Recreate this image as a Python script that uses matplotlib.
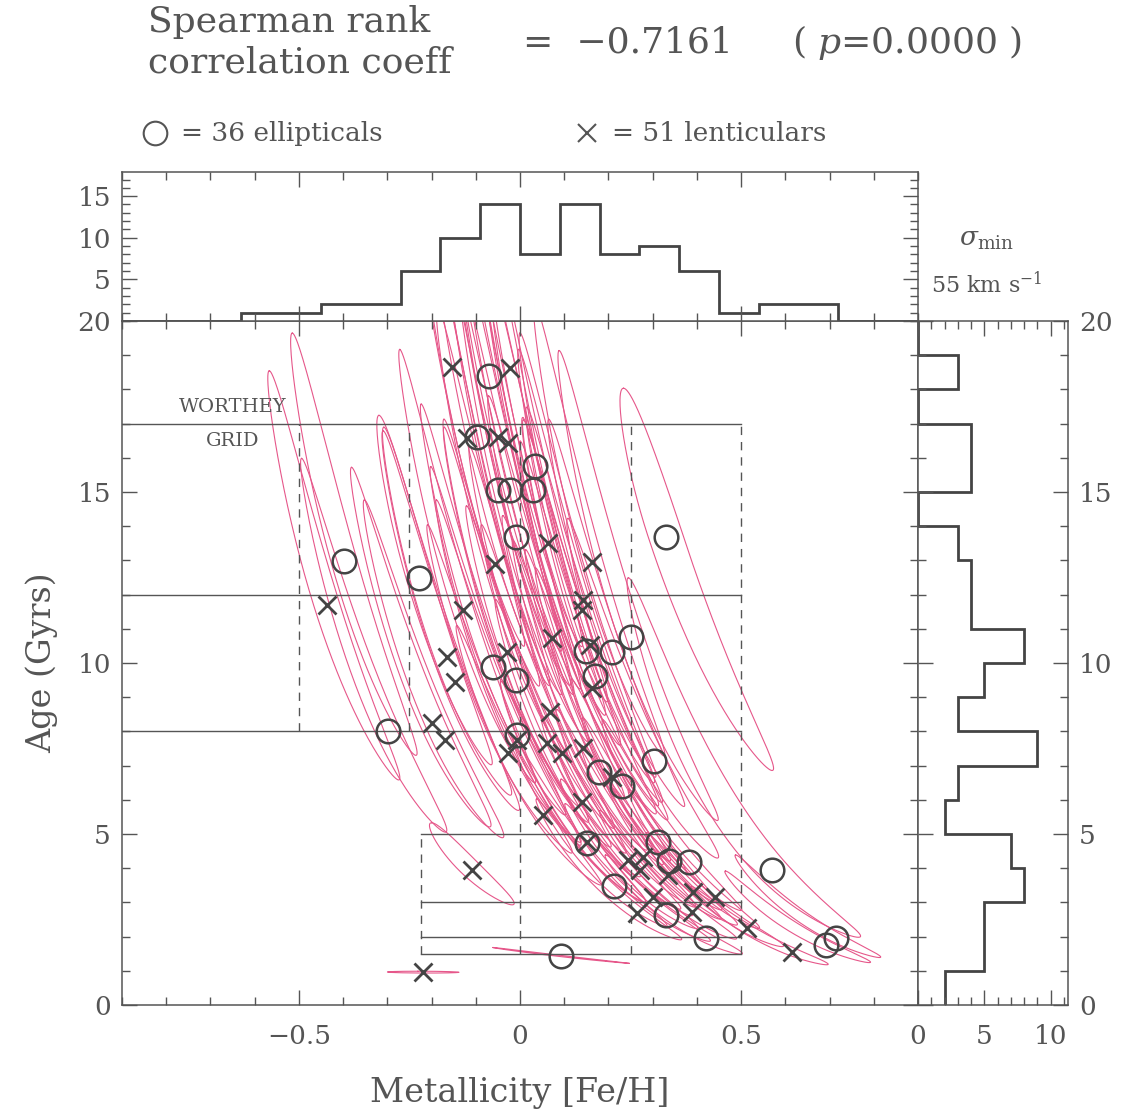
import numpy as np
import matplotlib
matplotlib.use("Agg")
import matplotlib.pyplot as plt
from matplotlib.lines import Line2D
from matplotlib.ticker import MultipleLocator, FixedLocator

plt.rcParams['font.family'] = ['DejaVu Serif']
plt.rcParams['mathtext.fontset'] = 'dejavuserif'

# --- data ---------------------------------------------------------------
# ellipticals (circles): [Fe/H] and age (Gyr)
circ_feh = [-0.070, -0.097, 0.034, -0.050, -0.023, 0.029, -0.009, 0.330, -0.398, -0.228,
            0.251, 0.149, 0.208, -0.061, -0.009, 0.170, -0.299, -0.007, 0.179, 0.303,
            0.231, 0.152, 0.312, 0.337, 0.382, 0.213, 0.330, 0.421, 0.570, 0.692,
            0.715, 0.093]
circ_age = [18.39, 16.61, 15.76, 15.06, 15.06, 15.06, 13.68, 13.68, 12.98, 12.49,
            10.76, 10.35, 10.32, 9.88, 9.50, 9.62, 8.01, 7.89, 6.81, 7.13,
            6.40, 4.74, 4.77, 4.21, 4.18, 3.48, 2.63, 1.96, 3.95, 1.75,
            1.96, 1.43]
# error contours: extent in log(age) above / below the point, [Fe/H] per dex of log age, width
circ_up = [0.15, 0.18, 0.18, 0.18, 0.18, 0.18, 0.20, 0.12, 0.18, 0.14,
           0.25, 0.22, 0.22, 0.25, 0.25, 0.25, 0.30, 0.30, 0.30, 0.30,
           0.30, 0.30, 0.30, 0.30, 0.30, 0.35, 0.35, 0.35, 0.50, 0.35,
           0.35, 0.07]
circ_down = [0.25, 0.25, 0.25, 0.22, 0.22, 0.25, 0.25, 0.30, 0.25, 0.25,
             0.30, 0.25, 0.25, 0.25, 0.25, 0.25, 0.20, 0.22, 0.22, 0.22,
             0.22, 0.20, 0.20, 0.18, 0.18, 0.18, 0.15, 0.12, 0.30, 0.15,
             0.15, 0.07]
circ_slope = [0.65, 0.65, 0.65, 0.65, 0.65, 0.65, 0.65, 0.80, 0.65, 0.65,
              0.65, 0.65, 0.65, 0.65, 0.65, 0.65, 0.65, 0.65, 0.65, 0.65,
              0.65, 0.65, 0.65, 0.65, 0.65, 0.65, 0.65, 0.65, 0.65, 0.65,
              0.65, 2.20]
circ_width = [0.025, 0.025, 0.025, 0.025, 0.025, 0.025, 0.025, 0.04, 0.03, 0.03,
              0.03, 0.025, 0.025, 0.025, 0.025, 0.025, 0.03, 0.025, 0.025, 0.03,
              0.025, 0.025, 0.025, 0.025, 0.025, 0.025, 0.025, 0.025, 0.045, 0.025,
              0.025, 0.012]

# lenticulars (crosses)
cross_feh = [-0.154, -0.023, -0.120, -0.050, -0.027, 0.063, -0.057, 0.163, -0.437, -0.129,
             0.143, 0.140, 0.072, 0.158, -0.165, -0.029, -0.147, 0.163, -0.199, -0.170,
             0.068, 0.061, 0.095, -0.027, -0.007, 0.143, 0.208, 0.140, 0.052, 0.152,
             -0.109, -0.219, 0.244, 0.278, 0.271, 0.335, 0.301, 0.265, 0.391, 0.441,
             0.389, 0.514, 0.615]
cross_age = [18.65, 18.63, 16.58, 16.61, 16.43, 13.51, 12.89, 12.95, 11.70, 11.55,
             11.84, 11.55, 10.73, 10.53, 10.18, 10.32, 9.44, 9.27, 8.25, 7.75,
             8.57, 7.66, 7.37, 7.37, 7.75, 7.51, 6.67, 5.94, 5.56, 4.77,
             3.95, 0.96, 4.24, 4.33, 3.95, 3.80, 3.16, 2.69, 3.30, 3.16,
             2.72, 2.25, 1.55]
cross_up = [0.15, 0.15, 0.18, 0.18, 0.18, 0.20, 0.20, 0.20, 0.20, 0.22,
            0.22, 0.22, 0.22, 0.22, 0.22, 0.22, 0.25, 0.25, 0.28, 0.28,
            0.28, 0.28, 0.28, 0.28, 0.28, 0.28, 0.30, 0.30, 0.30, 0.30,
            0.13, 0.012, 0.30, 0.30, 0.30, 0.30, 0.32, 0.35, 0.30, 0.30,
            0.32, 0.35, 0.35]
cross_down = [0.25, 0.25, 0.25, 0.25, 0.25, 0.25, 0.25, 0.25, 0.25, 0.25,
              0.25, 0.25, 0.25, 0.25, 0.22, 0.25, 0.22, 0.22, 0.20, 0.20,
              0.22, 0.22, 0.22, 0.22, 0.22, 0.22, 0.20, 0.20, 0.20, 0.20,
              0.13, 0.012, 0.18, 0.18, 0.18, 0.18, 0.15, 0.15, 0.15, 0.15,
              0.15, 0.12, 0.12]
cross_slope = [0.65, 0.65, 0.65, 0.65, 0.65, 0.65, 0.65, 0.65, 0.65, 0.65,
               0.65, 0.65, 0.65, 0.65, 0.65, 0.65, 0.65, 0.65, 0.65, 0.65,
               0.65, 0.65, 0.65, 0.65, 0.65, 0.65, 0.65, 0.65, 0.65, 0.65,
               0.70, 1.00, 0.65, 0.65, 0.65, 0.65, 0.65, 0.65, 0.65, 0.65,
               0.65, 0.65, 0.65]
cross_width = [0.025, 0.025, 0.025, 0.025, 0.025, 0.025, 0.025, 0.025, 0.03, 0.025,
               0.025, 0.025, 0.025, 0.025, 0.03, 0.025, 0.03, 0.025, 0.03, 0.03,
               0.025, 0.025, 0.025, 0.025, 0.025, 0.025, 0.025, 0.025, 0.025, 0.025,
               0.03, 0.08, 0.025, 0.025, 0.025, 0.025, 0.025, 0.025, 0.025, 0.025,
               0.025, 0.025, 0.025]

# metallicity histogram (top)
feh_edges = [-0.9, -0.63, -0.54, -0.45, -0.36, -0.27, -0.18, -0.09, 0.0, 0.09,
             0.18, 0.27, 0.36, 0.45, 0.54, 0.63, 0.72, 0.9]
feh_counts = [0, 1, 1, 2, 2, 6, 10, 14, 8, 14, 8, 9, 6, 1, 2, 2, 0]

# age histogram (right)
age_edges = list(range(0, 21))
age_counts = [2, 5, 5, 8, 7, 2, 3, 9, 3, 5, 8, 4, 4, 3, 0, 4, 4, 0, 3, 0]

# Worthey model grid
grid_old_ages = [8, 12, 17]
grid_old_feh = [-0.5, -0.25, 0.0, 0.25, 0.5]
grid_young_ages = [1.5, 2, 3, 5]
grid_young_feh = [-0.225, 0.0, 0.25, 0.5]

# --- figure --------------------------------------------------------------
W, H = 1131, 1120
fig = plt.figure(figsize=(W / 100, H / 100), dpi=100)
ax = fig.add_axes([0.1079, 0.1027, 0.7038, 0.6107])
axt = fig.add_axes([0.1079, 0.7134, 0.7038, 0.1330])
axr = fig.add_axes([0.8117, 0.1027, 0.1326, 0.6107])

fg = '#555555'
pink = '#e6578a'

for a in (ax, axt, axr):
    for s in a.spines.values():
        s.set_color(fg)
        s.set_linewidth(1.1)
    a.tick_params(which='both', direction='in', colors=fg, labelcolor=fg,
                  top=True, right=True, labelsize=19, width=1.0)
    a.tick_params(which='major', length=11)
    a.tick_params(which='minor', length=6)

# error contours (ellipses in [Fe/H]-log(age) space)
theta = np.linspace(0, 2 * np.pi, 300)
c = np.cos(theta)
s = np.sin(theta)
contours = list(zip(circ_feh, circ_age, circ_up, circ_down, circ_slope, circ_width)) + \
    list(zip(cross_feh, cross_age, cross_up, cross_down, cross_slope, cross_width))
for feh, age, up, down, k, w in contours:
    dl = np.where(c > 0, up, down) * c
    ax.plot(feh - k * dl + w * s, 10 ** (np.log10(age) + dl), color=pink, lw=0.8, zorder=1)

# Worthey grid
dash = (0, (6, 5))
for t in grid_old_ages:
    ax.plot([-0.9, grid_old_feh[-1]], [t, t], color=fg, lw=1.0, zorder=2)
for t in grid_young_ages:
    ax.plot([grid_young_feh[0], grid_young_feh[-1]], [t, t], color=fg, lw=1.0, zorder=2)
for f in grid_old_feh:
    bottom = grid_young_ages[0] if f in grid_young_feh else grid_old_ages[0]
    ax.plot([f, f], [bottom, grid_old_ages[-1]], color=fg, lw=1.0, ls=dash, zorder=2)
for f in grid_young_feh:
    if f not in grid_old_feh:
        ax.plot([f, f], [grid_young_ages[0], grid_young_ages[-1]], color=fg, lw=1.0,
                ls=dash, zorder=2)
ax.text(-0.649, 17.49, 'WORTHEY', ha='center', va='center', fontsize=14, color=fg)
ax.text(-0.649, 16.5, 'GRID', ha='center', va='center', fontsize=14, color=fg)

# points
ax.plot(circ_feh, circ_age, 'o', mfc='none', mec='#444444', mew=1.8, ms=17, zorder=3)
ax.plot(cross_feh, cross_age, 'x', color='#444444', mew=2.0, ms=13, zorder=3)

ax.set_xlim(-0.9, 0.9)
ax.set_ylim(0, 20)
ax.xaxis.set_major_locator(FixedLocator([-0.5, 0, 0.5]))
ax.xaxis.set_minor_locator(MultipleLocator(0.1))
ax.set_xticklabels(['\u22120.5', '0', '0.5'])
ax.yaxis.set_major_locator(MultipleLocator(5))
ax.yaxis.set_minor_locator(MultipleLocator(1))
ax.tick_params(axis='x', pad=14)
ax.tick_params(axis='y', pad=8)
ax.set_xlabel('Metallicity [Fe/H]', fontsize=24, color=fg, labelpad=20)
ax.set_ylabel('Age (Gyrs)', fontsize=24, color=fg, labelpad=14)

# top histogram
axt.stairs(feh_counts, feh_edges, color='#444444', lw=2.0, baseline=None)
axt.set_xlim(-0.9, 0.9)
axt.set_ylim(0, 17.9)
axt.xaxis.set_major_locator(FixedLocator([-0.5, 0, 0.5]))
axt.xaxis.set_minor_locator(MultipleLocator(0.1))
axt.set_xticklabels([])
axt.yaxis.set_major_locator(FixedLocator([5, 10, 15]))
axt.yaxis.set_minor_locator(MultipleLocator(1))
axt.tick_params(axis='y', pad=8)

# right histogram
axr.stairs(age_counts, age_edges, orientation='horizontal', color='#444444', lw=2.0,
           baseline=None)
axr.set_xlim(0, 11.3)
axr.set_ylim(0, 20)
axr.xaxis.set_major_locator(FixedLocator([0, 5, 10]))
axr.xaxis.set_minor_locator(MultipleLocator(1))
axr.yaxis.set_major_locator(MultipleLocator(5))
axr.yaxis.set_minor_locator(MultipleLocator(1))
axr.tick_params(axis='y', labelleft=False, labelright=True, pad=8)
axr.tick_params(axis='x', pad=14)

# header texts
fig.text(0.131, 0.980, 'Spearman rank', fontsize=26, color=fg, va='center')
fig.text(0.131, 0.944, 'correlation coeff', fontsize=26, color=fg, va='center')
fig.text(0.462, 0.962, '=  \u22120.7161', fontsize=26, color=fg, va='center')
fig.text(0.700, 0.962, '( $p$=0.0000 )', fontsize=26, color=fg, va='center')

fig.add_artist(Line2D([0.137], [0.881], marker='o', mfc='none', mec=fg, mew=1.5, ms=17,
                      transform=fig.transFigure))
fig.text(0.160, 0.881, '= 36 ellipticals', fontsize=19, color=fg, va='center')
fig.add_artist(Line2D([0.519], [0.881], marker='x', color=fg, mew=1.5, ms=13,
                      transform=fig.transFigure))
fig.text(0.541, 0.881, '= 51 lenticulars', fontsize=19, color=fg, va='center')

fig.text(0.872, 0.786, r'$\sigma_{\rm min}$', fontsize=19, color=fg, ha='center', va='center')
fig.text(0.872, 0.746, r'55 km s$^{-1}$', fontsize=16, color=fg, ha='center', va='center')

fig.savefig('out.png', dpi=100)
